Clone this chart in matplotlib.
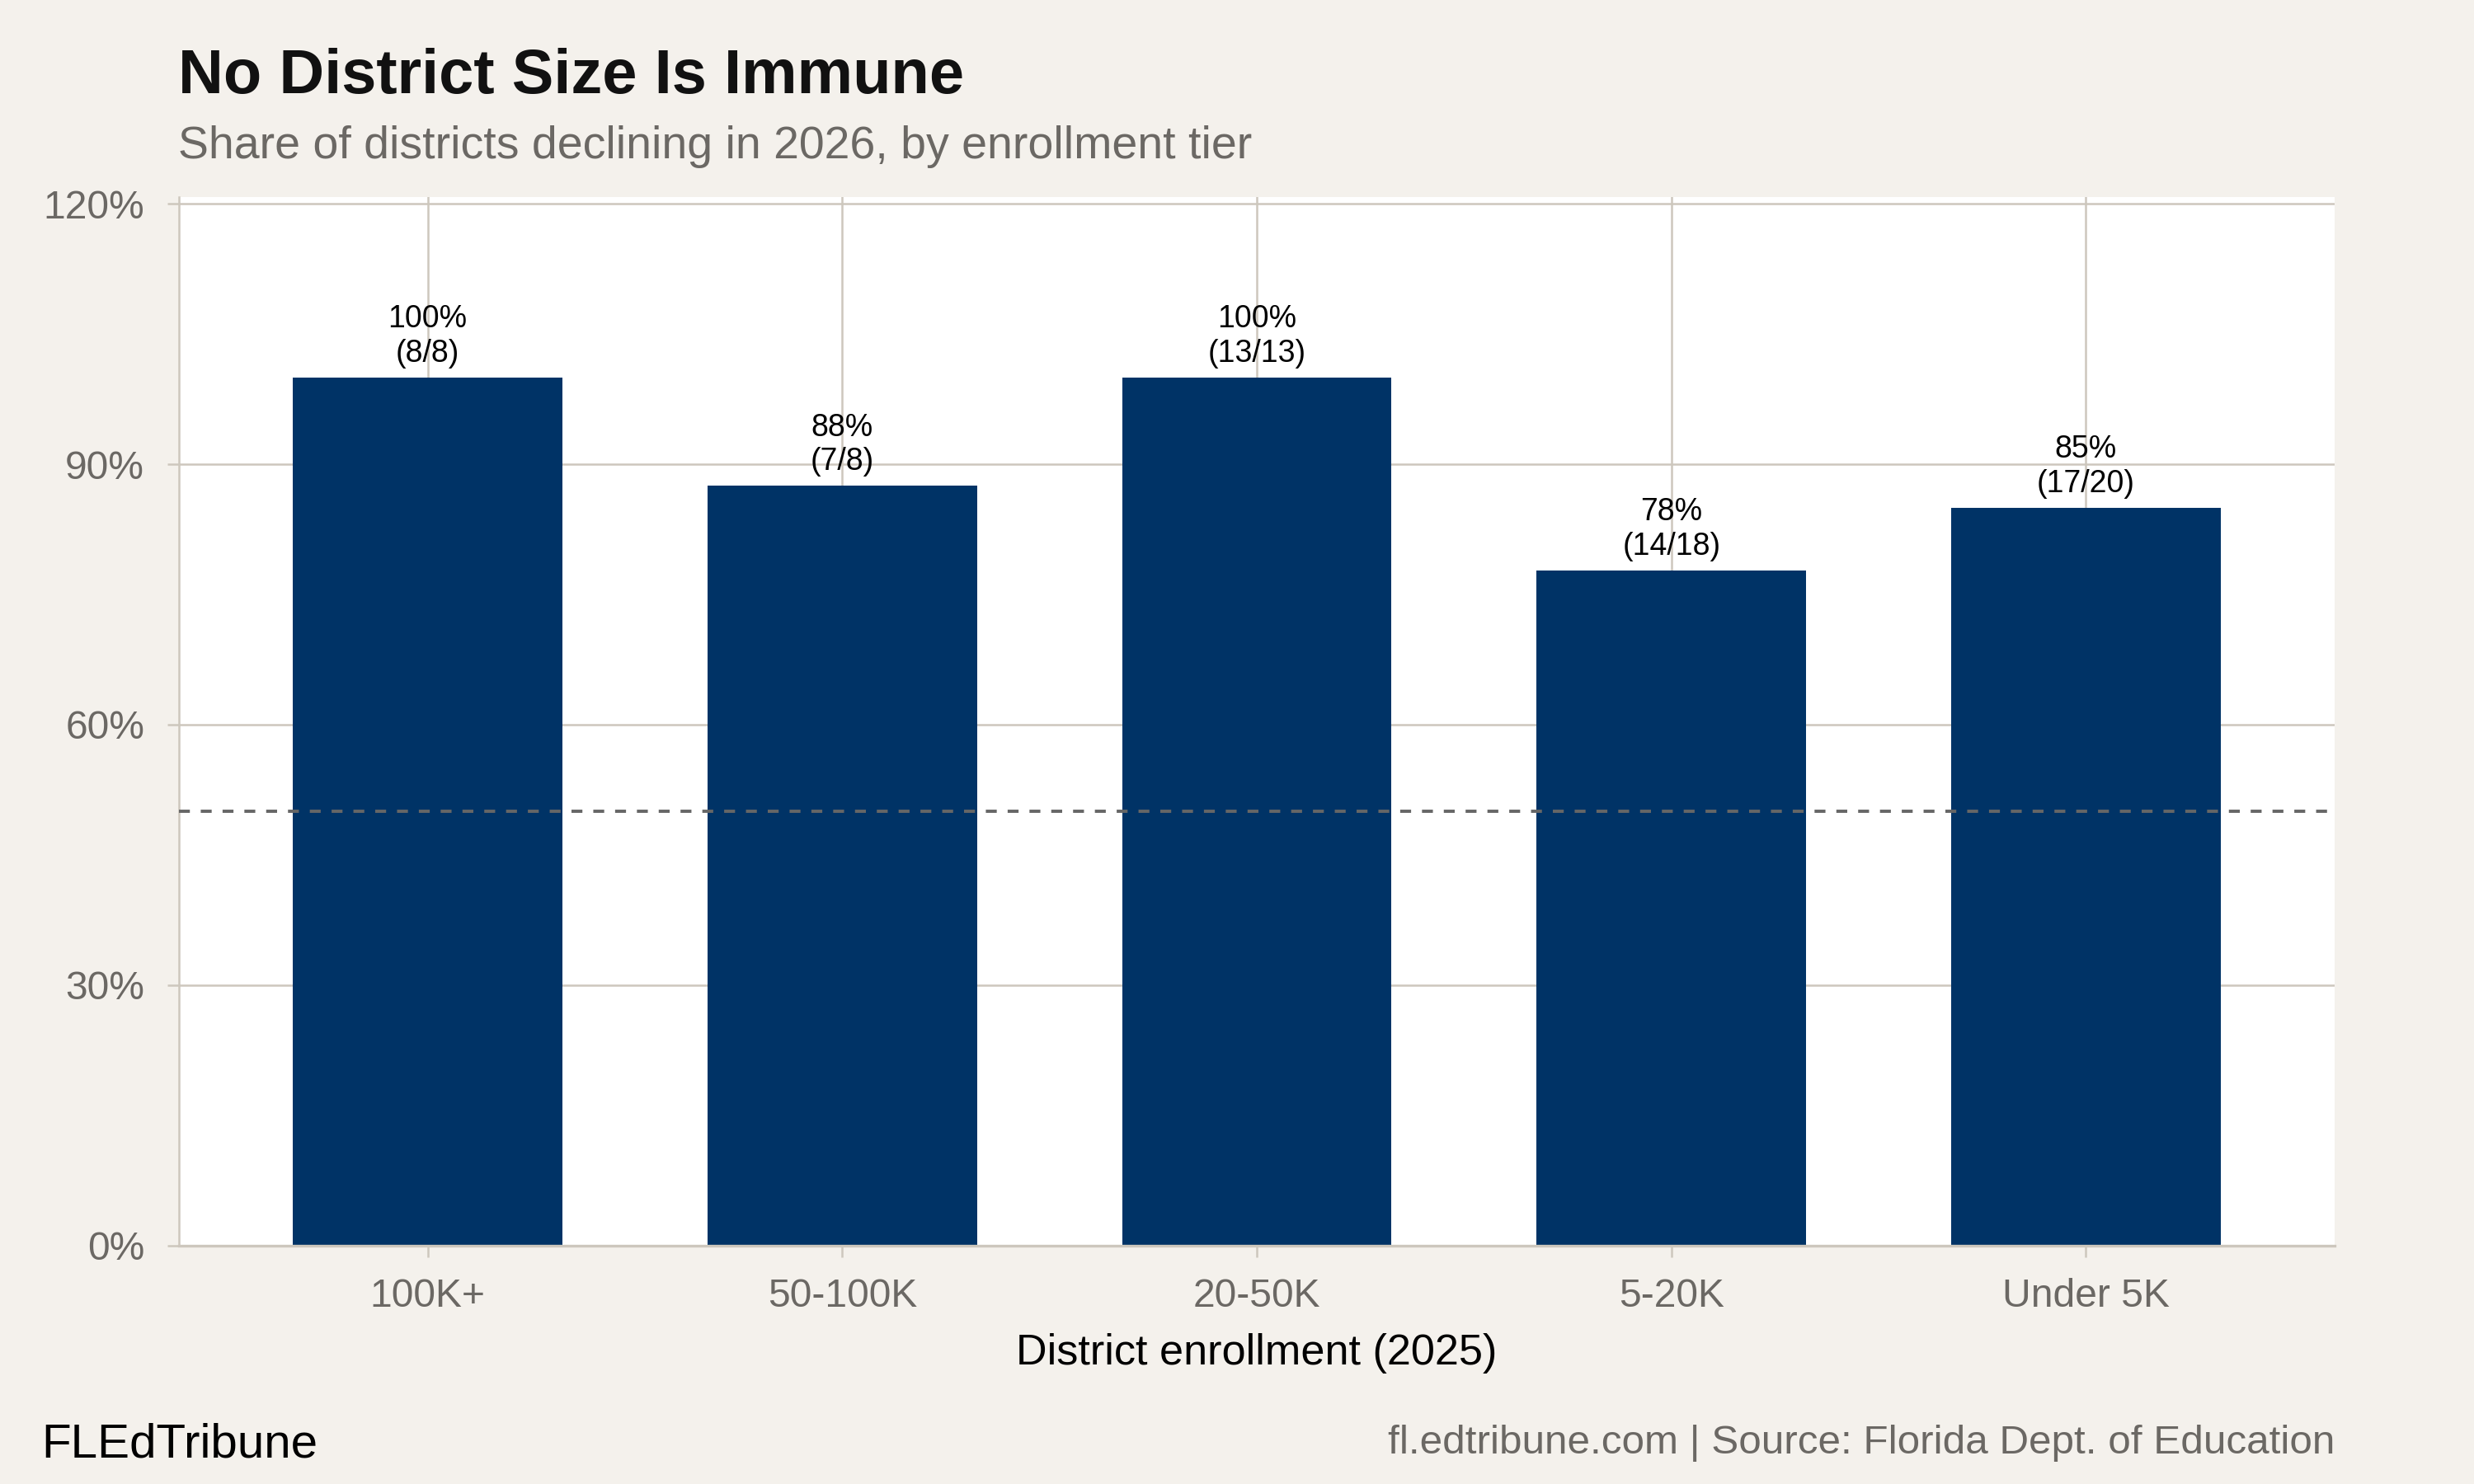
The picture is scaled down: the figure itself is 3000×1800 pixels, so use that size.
import matplotlib.pyplot as plt
import numpy as np

plt.rcParams['font.family'] = ['Liberation Sans', 'DejaVu Sans']

# data
tiers = ['100K+', '50-100K', '20-50K', '5-20K', 'Under 5K']
declining = [8, 7, 13, 14, 17]
totals = [8, 8, 13, 18, 20]
share = np.array(declining) / np.array(totals)

bg = '#f4f1ec'
grid_c = '#cdc7bd'
navy = '#003366'
grey_txt = '#6b6864'

fig = plt.figure(figsize=(15, 9), dpi=200, facecolor=bg)
ax = fig.add_axes([0.0723, 0.1606, 0.8714, 0.7066])
ax.set_facecolor('white')

x = np.arange(len(tiers))
ax.bar(x, share, width=0.65, color=navy, zorder=2)
ax.axhline(0.5, color='#666666', lw=1.4, dashes=(3.4, 3.4), zorder=3)

for xi, s, d, t in zip(x, share, declining, totals):
    ax.annotate(f'{s:.0%}\n({d}/{t})', (xi, s), xytext=(0, 4),
                textcoords='offset points', ha='center', va='bottom',
                fontsize=13.5, color='black', linespacing=1.2, zorder=4)

ax.set_xlim(-0.6, len(tiers) - 0.4)
ax.set_ylim(0, 1.2076)
ax.set_yticks([0, 0.3, 0.6, 0.9, 1.2])
ax.set_yticklabels(['0%', '30%', '60%', '90%', '120%'])
ax.set_xticks(x)
ax.set_xticklabels(tiers)

ax.grid(True, color=grid_c, lw=0.9, zorder=0)
ax.set_axisbelow(True)
for side in ['top', 'right']:
    ax.spines[side].set_visible(False)
ax.spines['left'].set_color(grid_c)
ax.spines['left'].set_linewidth(0.9)
ax.spines['bottom'].set_color(grid_c)
ax.spines['bottom'].set_linewidth(1.2)

ax.tick_params(axis='y', length=5, width=0.9, color=grid_c, pad=10,
               labelsize=17.3, labelcolor=grey_txt)
ax.tick_params(axis='x', length=5, width=0.9, color=grid_c, pad=9,
               labelsize=17.3, labelcolor=grey_txt)
ax.set_xlabel('District enrollment (2025)', fontsize=18.8, color='black', labelpad=8)

fig.text(216 / 3000, 1 - 113 / 1800, 'No District Size Is Immune', fontsize=27.3,
         fontweight='bold', color='#111111', va='baseline', ha='left')
fig.text(216 / 3000, 1 - 192 / 1800, 'Share of districts declining in 2026, by enrollment tier',
         fontsize=20, color=grey_txt, va='baseline', ha='left')
fig.text(50 / 3000, 1 - 1767 / 1800, 'FLEdTribune', fontsize=21, color='black',
         va='baseline', ha='left')
fig.text(2831 / 3000, 1 - 1763 / 1800,
         'fl.edtribune.com | Source: Florida Dept. of Education',
         fontsize=17.8, color=grey_txt, va='baseline', ha='right')

fig.savefig('out.png', dpi=200, facecolor=bg)
